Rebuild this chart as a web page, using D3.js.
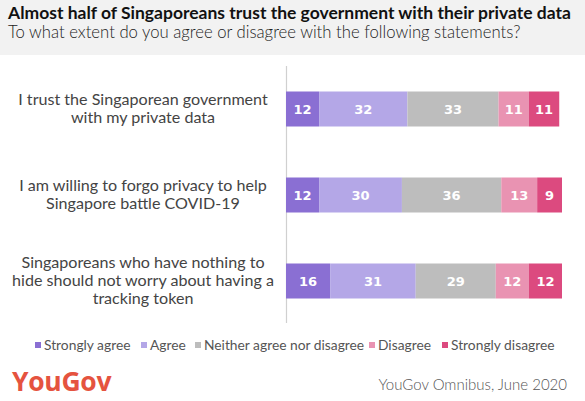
<!DOCTYPE html>
<html><head><meta charset="utf-8">
<script src="https://cdn.jsdelivr.net/npm/d3@7"></script>
<style>body{margin:0;background:#fff;} svg{display:block;}</style>
</head><body>
<script>
const categories = [
  ["I trust the Singaporean government", "with my private data"],
  ["I am willing to forgo privacy to help", "Singapore battle COVID-19"],
  ["Singaporeans who have nothing to", "hide should not worry about having a", "tracking token"]
];
const seriesNames = ["Strongly agree", "Agree", "Neither agree nor disagree", "Disagree", "Strongly disagree"];
const stronglyAgree = [12, 12, 16];
const agree = [32, 30, 31];
const neither = [33, 36, 29];
const disagree = [11, 13, 12];
const stronglyDisagree = [11, 9, 12];
const colors = ["#8a6fd3", "#b4a7e7", "#bdbdbd", "#e993b2", "#dc4a7f"];
const title = "Almost half of Singaporeans trust the government with their private data";
const subtitle = "To what extent do you agree or disagree with the following statements?";
const source = "YouGov Omnibus, June 2020";

const W = 585, H = 401;
const svg = d3.select("body").append("svg").attr("width", W).attr("height", H);
const font = "Lato, 'Open Sans', sans-serif";

svg.append("rect").attr("x",0).attr("y",0).attr("width",W).attr("height",55).attr("fill","#f2f2f2");
svg.append("text").attr("x",8).attr("y",19).attr("font-family",font).attr("font-weight","bold")
  .attr("font-size",17.5).attr("fill","#111").text(title);
svg.append("text").attr("x",8).attr("y",38).attr("font-family",font).attr("font-weight",300)
  .attr("font-size",16.7).attr("fill","#222").text(subtitle);

const series = [stronglyAgree, agree, neither, disagree, stronglyDisagree];
const rows = categories.map((c,i)=>{
  const o = {i};
  seriesNames.forEach((s,k)=>o[s]=series[k][i]);
  return o;
});
const stack = d3.stack().keys(seriesNames)(rows);

const x = d3.scaleLinear().domain([0,100]).range([286,562]);
const y = d3.scaleBand().domain(d3.range(categories.length)).range([66,324]).paddingInner(0.593).paddingOuter(0.2965);

svg.append("line").attr("x1",286.5).attr("x2",286.5).attr("y1",66).attr("y2",323)
  .attr("stroke","#d0d0d0").attr("stroke-width",1.2);

const g = svg.append("g");
stack.forEach((layer,k)=>{
  layer.forEach((d,i)=>{
    g.append("rect").attr("x",x(d[0])).attr("y",y(i)).attr("width",x(d[1])-x(d[0]))
      .attr("height",y.bandwidth()).attr("fill",colors[k]);
    g.append("text").attr("x",(x(d[0])+x(d[1]))/2).attr("y",y(i)+y.bandwidth()/2+5)
      .attr("text-anchor","middle").attr("font-family","'DejaVu Sans', sans-serif").attr("font-weight","bold")
      .attr("font-size",13).attr("fill","#fff").text(d[1]-d[0]);
  });
});

categories.forEach((lines,i)=>{
  const cy = y(i)+y.bandwidth()/2 - 1;
  const lh = 18;
  const t = svg.append("text").attr("text-anchor","middle").attr("font-family",font)
    .attr("font-size",16.1).attr("fill","#444");
  lines.forEach((ln,j)=>{
    t.append("tspan").attr("x",143).attr("y",cy + (j-(lines.length-1)/2)*lh + 5.5).text(ln);
  });
});

// legend
const legendX = [35, 141, 195, 369, 442];
const lg = svg.append("g");
seriesNames.forEach((s,k)=>{
  lg.append("rect").attr("x",legendX[k]).attr("y",342).attr("width",6).attr("height",6).attr("fill",colors[k]);
  lg.append("text").attr("x",legendX[k]+9).attr("y",350).attr("font-family",font).attr("font-size",13.8)
    .attr("fill","#555").text(s);
});

svg.append("text").attr("x",12).attr("y",391).attr("font-family","'Open Sans', sans-serif").attr("font-weight","bold")
  .attr("font-size",26.5).attr("fill","#e5533f").attr("letter-spacing",-0.3).text("YouGov");
svg.append("text").attr("x",567).attr("y",390).attr("text-anchor","end").attr("font-family",font).attr("font-weight",300)
  .attr("font-size",15).attr("fill","#555").text(source);
</script>
</body></html>
